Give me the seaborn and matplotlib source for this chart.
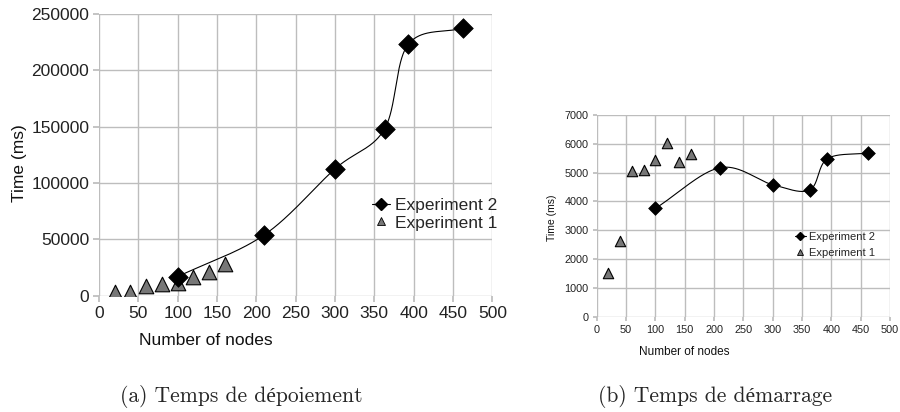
import numpy as np
import pandas as pd
import matplotlib
matplotlib.use("Agg")
import matplotlib.pyplot as plt
import seaborn as sns
from matplotlib.lines import Line2D

# ---- data ----
exp2_nodes = [100, 210, 300, 363, 393, 463]
exp1_nodes = [20, 40, 60, 80, 100, 120, 140, 160]
deploy_exp2 = [17000, 54000, 112600, 148000, 223000, 237600]
deploy_exp1 = [3800, 3800, 8300, 10300, 11800, 16300, 20700, 28000]
start_exp2 = [3760, 5170, 4580, 4400, 5480, 5680]
start_exp1 = [1520, 2620, 5040, 5100, 5440, 6040, 5360, 5640]
x_ticks = [0, 50, 100, 150, 200, 250, 300, 350, 400, 450, 500]
deploy_ticks = [0, 50000, 100000, 150000, 200000, 250000]
start_ticks = [0, 1000, 2000, 3000, 4000, 5000, 6000, 7000]
caption_a = "(a) Temps de dépoiement"
caption_b = "(b) Temps de démarrage"
label_x = "Number of nodes"
label_y = "Time (ms)"
series_names = ["Experiment 2", "Experiment 1"]


def smooth_curve(xs, ys, xr, yr, n=60):
    P = np.column_stack([np.asarray(xs, float) / xr, np.asarray(ys, float) / yr])
    P = np.vstack([2 * P[0] - P[1], P, 2 * P[-1] - P[-2]])
    out = []
    t = np.linspace(0, 1, n)[:, None]
    for i in range(1, len(P) - 2):
        p0, p1, p2, p3 = P[i - 1], P[i], P[i + 1], P[i + 2]
        seg = 0.5 * ((2 * p1) + (-p0 + p2) * t + (2 * p0 - 5 * p1 + 4 * p2 - p3) * t ** 2
                     + (-p0 + 3 * p1 - 3 * p2 + p3) * t ** 3)
        out.append(seg if i == 1 else seg[1:])
    C = np.vstack(out)
    return C[:, 0] * xr, C[:, 1] * yr


sns.set_theme(style="white")
plt.rcParams['font.family'] = ['Liberation Sans', 'DejaVu Sans']

fig = plt.figure(figsize=(9, 4.12), dpi=100)
ax1 = fig.add_axes([0.110, 0.282, 0.437, 0.684])
ax2 = fig.add_axes([0.663, 0.231, 0.326, 0.490])

grid_c = "#bdbdbd"


def draw(ax, e2y, e1y, yticks, ymax, ms_d, ms_t, fs_tick, fs_xlab, fs_ylab, lw, tl):
    ax.set_xlim(0, 500)
    ax.set_ylim(0, ymax)
    ax.set_xticks(x_ticks)
    ax.set_yticks(yticks)
    ax.grid(True, color=grid_c, linewidth=1.0)
    ax.set_axisbelow(True)
    for s in ax.spines.values():
        s.set_visible(False)
    ax.tick_params(axis="both", length=tl, color=grid_c, labelsize=fs_tick,
                   labelcolor="#222222", pad=3, direction="out", left=True, bottom=True)
    cx, cy = smooth_curve(exp2_nodes, e2y, 500, ymax)
    curve = pd.DataFrame({"x": cx, "y": cy})
    sns.lineplot(data=curve, x="x", y="y", sort=False, color="black",
                 linewidth=lw, ax=ax, estimator=None)
    d1 = pd.DataFrame({"x": exp1_nodes, "y": e1y})
    sns.scatterplot(data=d1, x="x", y="y", marker="^", s=ms_t ** 2, color="#777777",
                    edgecolor="black", linewidth=0.8, ax=ax, zorder=3)
    d2 = pd.DataFrame({"x": exp2_nodes, "y": e2y})
    sns.scatterplot(data=d2, x="x", y="y", marker="D", s=ms_d ** 2, color="black",
                    edgecolor="black", linewidth=0.5, ax=ax, zorder=4)
    ax.set_xlabel(label_x, fontsize=fs_xlab, color="#111111")
    ax.set_ylabel(label_y, fontsize=fs_ylab, color="#111111")


draw(ax1, deploy_exp2, deploy_exp1, deploy_ticks, 250000, 10, 10.5, 12.5, 12.5, 12.5, 0.8, 4)
draw(ax2, start_exp2, start_exp1, start_ticks, 7000, 7, 7.5, 7.8, 8.5, 7.5, 0.8, 3)

ax1.xaxis.set_label_coords(0.272, -0.131)
ax1.yaxis.set_label_coords(-0.183, 0.47)
ax2.xaxis.set_label_coords(0.30, -0.144)
ax2.yaxis.set_label_coords(-0.137, 0.49)


def legend(ax, ms, fs, loc, sp):
    h = [Line2D([0], [0], color="black", lw=0.8, marker="D", markersize=ms,
                markerfacecolor="black"),
         Line2D([0], [0], color="none", marker="^", markersize=ms,
                markerfacecolor="#777777", markeredgecolor="black", markeredgewidth=0.6)]
    ax.legend(h, series_names, frameon=False, fontsize=fs, loc="center left",
              bbox_to_anchor=loc, handlelength=1.0, handletextpad=0.3,
              labelspacing=sp, borderpad=0, borderaxespad=0)


legend(ax1, 6, 12.5, (0.695, 0.29), 0.15)
legend(ax2, 4.5, 8, (0.675, 0.356), 0.5)

cap_font = ['cmr10', 'Liberation Serif', 'DejaVu Serif']
fig.text(0.268, 0.038, caption_a, ha="center", va="center", fontsize=15.5, family=cap_font)
fig.text(0.795, 0.038, caption_b, ha="center", va="center", fontsize=15.5, family=cap_font)

fig.savefig("out.png", dpi=100, facecolor="white")
